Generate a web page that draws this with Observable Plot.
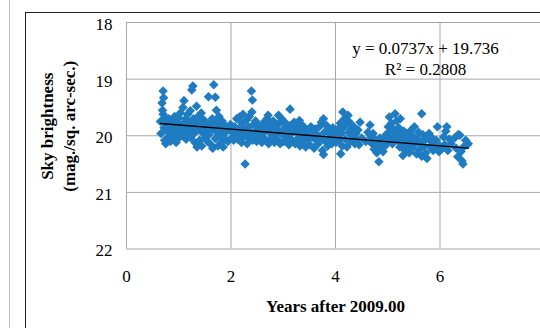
<!DOCTYPE html>
<html><head><meta charset="utf-8">
<script src="https://cdn.jsdelivr.net/npm/d3@7"></script>
<script src="https://cdn.jsdelivr.net/npm/@observablehq/plot@0.6"></script>
<style>
html,body{margin:0;padding:0;background:#fff;overflow:hidden;}
#wrap{position:relative;width:540px;height:328px;overflow:hidden;}
#wrap svg{display:block;}
#wrap svg text{font-family:'Liberation Serif','Times New Roman',serif !important;}
.vline{position:absolute;left:9px;top:0;width:1px;height:328px;background:#bdbdbd;}
.frame{position:absolute;left:25px;top:12px;width:600px;height:400px;border-left:1px solid #222;border-top:1px solid #222;}
</style></head><body>
<div id="wrap"></div>
<script>
const years = [
  0.65,0.66,0.68,0.69,0.70,0.71,0.72,0.73,0.74,0.75,0.70,
  0.77,0.78,0.80,0.81,0.83,0.84,0.85,
  0.87,0.88,0.90,0.92,0.93,0.95,
  0.97,0.99,1.00,1.02,1.03,1.05,
  1.07,1.08,1.10,1.11,1.13,1.14,1.15,
  1.17,1.19,1.20,1.22,1.23,1.25,1.25,
  1.27,1.28,1.30,1.31,1.33,1.34,1.35,
  1.37,1.38,1.40,1.41,1.43,1.44,1.45,
  1.47,1.48,1.50,1.52,1.53,1.55,
  1.57,1.58,1.60,1.61,1.63,1.64,1.65,
  1.67,1.68,1.70,1.70,1.72,1.73,1.74,1.75,
  1.77,1.78,1.80,1.81,1.83,1.84,1.85,
  1.87,1.89,1.90,1.92,1.94,
  1.97,1.99,2.01,2.03,2.05,
  2.07,2.09,2.11,2.13,2.15,
  2.16,2.18,2.20,2.21,2.23,2.24,2.25,
  2.27,2.28,2.30,2.31,2.33,2.34,2.35,
  2.37,2.39,2.40,2.41,2.42,2.43,2.45,
  2.47,2.49,2.50,2.52,2.54,
  2.57,2.59,2.61,2.63,2.65,
  2.67,2.69,2.71,2.72,2.74,2.75,
  2.77,2.79,2.81,2.83,2.85,
  2.87,2.89,2.91,2.92,2.94,2.95,
  2.97,2.99,3.01,3.03,3.05,
  3.07,3.09,3.11,3.13,3.14,3.15,
  3.17,3.19,3.21,3.23,3.25,
  3.27,3.29,3.31,3.32,3.34,3.35,
  3.37,3.39,3.41,3.43,3.45,
  3.47,3.49,3.51,3.53,3.55,
  3.57,3.59,3.61,3.63,3.65,
  3.67,3.69,3.71,3.73,3.75,
  3.77,3.77,3.79,3.81,3.83,3.85,
  3.87,3.89,3.91,3.93,3.95,
  3.97,3.99,4.01,4.03,4.05,
  4.07,4.09,4.10,4.11,4.13,4.14,4.15,
  4.17,4.19,4.21,4.22,4.24,4.25,
  4.27,4.29,4.31,4.33,4.35,
  4.37,4.39,4.41,4.43,4.45,
  4.47,4.50,4.58,4.62,
  4.66,4.68,4.70,4.72,4.74,
  4.77,4.79,4.81,4.83,4.85,
  4.87,4.89,4.91,4.93,4.95,
  4.97,4.99,5.01,5.03,5.04,5.05,
  5.07,5.09,5.11,5.13,5.14,5.15,
  5.17,5.19,5.21,5.23,5.24,5.25,
  5.27,5.29,5.31,5.33,5.35,
  5.37,5.39,5.41,5.43,5.45,
  5.47,5.49,5.51,5.53,5.55,
  5.57,5.59,5.61,5.63,5.65,5.65,
  5.67,5.69,5.71,5.73,5.75,
  5.77,5.79,5.81,5.83,5.85,
  5.87,5.89,5.91,5.93,
  5.95,5.98,6.00,6.03,
  6.07,6.09,6.11,6.13,6.15,
  6.18,6.21,
  6.28,6.31,6.34,6.35,
  6.38,6.40,6.42,6.44,6.45,
  6.49,6.52,6.54
];
const brightness = [
  19.75,19.96,19.42,19.55,19.21,19.33,19.86,20.08,19.68,20.14,19.62,
  19.78,19.92,20.02,19.70,19.85,20.10,19.95,
  19.72,20.05,19.83,19.66,19.97,20.12,
  19.76,19.88,19.69,20.02,19.60,19.92,
  19.80,19.50,19.38,19.96,19.70,20.06,19.86,
  19.62,19.94,19.76,19.56,20.03,19.19,19.85,
  19.12,19.70,19.95,20.12,19.80,19.48,20.20,
  19.66,19.90,20.08,19.74,19.60,20.18,19.86,
  19.96,19.72,20.04,19.82,19.92,20.10,
  19.31,19.98,19.78,20.15,19.88,19.70,20.22,
  19.10,19.86,19.32,20.05,19.55,19.94,19.76,20.18,
  19.66,20.00,19.84,20.12,19.74,19.92,20.20,
  19.80,20.06,19.94,19.86,20.10,
  19.90,19.80,20.04,19.92,20.08,
  19.84,19.98,19.70,20.06,19.88,
  19.67,19.94,20.12,19.78,19.62,20.02,19.88,
  20.50,19.96,19.72,20.14,19.84,20.04,19.66,
  19.92,19.21,19.58,19.37,20.08,19.80,19.98,
  19.74,20.10,19.90,19.82,20.02,
  19.86,20.12,19.96,19.76,20.06,
  19.88,19.70,19.64,20.14,19.94,19.80,
  20.04,19.86,19.74,20.12,19.96,
  19.82,20.06,19.64,19.92,20.14,19.76,
  19.70,19.98,20.10,19.86,19.78,
  20.02,19.90,20.16,19.53,19.82,19.96,
  20.08,19.88,19.76,20.14,19.94,
  19.84,20.04,19.73,20.18,19.92,19.80,
  20.10,19.98,19.86,20.20,19.90,
  20.06,19.94,20.16,19.84,20.02,
  19.92,20.22,19.88,20.08,19.98,
  20.14,19.84,20.04,19.76,20.26,
  19.70,20.33,19.94,20.10,19.82,20.18,
  19.90,20.06,19.98,20.14,19.86,
  20.04,19.94,20.12,20.00,19.88,
  20.08,19.78,20.32,19.96,20.18,19.58,19.86,
  19.70,20.06,19.80,20.20,19.64,19.94,
  19.76,20.10,19.88,20.02,19.84,
  20.14,19.96,20.08,19.90,20.16,
  19.76,20.04,20.10,19.94,
  19.81,20.02,20.14,19.96,20.24,
  20.08,20.30,20.16,20.46,20.04,
  20.22,20.12,20.28,20.06,20.18,
  19.98,20.10,19.84,19.67,20.04,19.92,
  19.78,20.14,19.88,20.02,19.61,19.96,
  19.74,20.08,19.86,20.20,19.70,19.98,
  20.12,20.35,19.92,20.26,20.04,
  20.18,19.96,20.30,20.10,19.90,
  20.22,20.02,19.84,20.14,20.32,
  20.06,19.94,20.24,20.12,19.61,20.36,
  19.98,20.18,20.08,20.30,20.40,
  20.02,19.96,20.20,20.10,20.04,
  20.26,20.14,20.22,20.08,
  19.84,20.28,20.18,20.24,
  20.02,20.16,19.92,19.84,20.26,
  20.06,20.14,
  20.04,20.22,20.37,19.98,
  19.99,20.28,20.44,20.50,20.20,
  20.08,20.16,20.14
];
const xTicks = [0, 2, 4, 6];
const yTicks = [18, 19, 20, 21, 22];
const trendSlope = 0.0737;
const trendIntercept = 19.736;
const equationLines = ["y = 0.0737x + 19.736", "R² = 0.2808"];
const xTitle = "Years after 2009.00";
const yTitleLines = ["Sky brightness", "(mag./sq. arc-sec.)"];

const data = years.map((x, i) => ({x, y: brightness[i]}));
const xExtent = d3.extent(years);
const trend = xExtent.map(x => ({x, y: trendSlope * x + trendIntercept}));
const font = "'Liberation Serif','Times New Roman',serif";
const gridColor = "#a8a8a8";

const chart = Plot.plot({
  width: 540, height: 328,
  marginLeft: 126, marginRight: -4, marginTop: 22, marginBottom: 79.5,
  style: {fontFamily: font, fontSize: "17px", color: "#000", background: "#fff", overflow: "visible"},
  x: {domain: [0, 8]},
  y: {domain: [18, 22], reverse: true},
  marks: [
    Plot.gridX({ticks: xTicks, stroke: gridColor, strokeOpacity: 1}),
    Plot.gridY({ticks: yTicks, stroke: gridColor, strokeOpacity: 1}),
    Plot.axisX({ticks: xTicks, tickSize: 0, tickPadding: 21, label: null, fontSize: 17, fontFamily: font, tickFormat: d3.format("d")}),
    Plot.axisY({ticks: yTicks, tickSize: 0, tickPadding: 14, label: null, fontSize: 17, fontFamily: font, dy: 2, tickFormat: d3.format("d")}),
    Plot.dot(data, {x: "x", y: "y", symbol: "diamond2", r: 4.3, fill: "#1f7cc2", stroke: "none"}),
    Plot.line(trend, {x: "x", y: "y", stroke: "#000", strokeWidth: 1.4}),
    Plot.text([equationLines.join("\n")], {frameAnchor: "top-left", dx: 299, dy: 35.5, textAnchor: "middle", lineAnchor: "middle", lineHeight: 1.2, fontSize: 17, fontFamily: font}),
    Plot.text([yTitleLines[0]], {frameAnchor: "left", dx: -79, dy: -9.5, rotate: -90, textAnchor: "middle", lineAnchor: "middle", fontWeight: "bold", fontSize: 17, fontFamily: font}),
    Plot.text([yTitleLines[1]], {frameAnchor: "left", dx: -57, dy: -9.5, rotate: -90, textAnchor: "middle", lineAnchor: "middle", fontWeight: "bold", fontSize: 17, fontFamily: font}),
    Plot.text([xTitle], {frameAnchor: "bottom", dx: 0, dy: 58, textAnchor: "middle", lineAnchor: "middle", fontWeight: "bold", fontSize: 17, fontFamily: font})
  ]
});
const wrap = document.getElementById("wrap");
wrap.appendChild(chart);
const v = document.createElement("div"); v.className = "vline"; wrap.appendChild(v);
const f = document.createElement("div"); f.className = "frame"; wrap.appendChild(f);
</script>
</body></html>
